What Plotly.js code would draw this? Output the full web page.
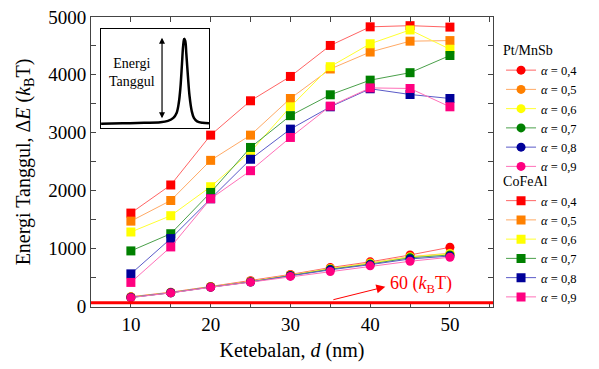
<!DOCTYPE html>
<html>
<head>
<meta charset="utf-8">
<script src="https://cdn.plot.ly/plotly-3.0.1.min.js"></script>
<style>html,body{margin:0;padding:0;background:#fff;}#chart{width:599px;height:369px;}</style>
</head>
<body>
<div id="chart"></div>
<script>
// Thickness d (nm)
const thickness = [10, 15, 20, 25, 30, 35, 40, 45, 50];
const alphaLabels = ['0,4', '0,5', '0,6', '0,7', '0,8', '0,9'];

// Pt/MnSb (circles) energy barrier, kBT
const ptMnSb_a04 = [162, 241, 340, 439, 548, 667, 766, 885, 1018];
const ptMnSb_a05 = [157, 236, 335, 430, 539, 652, 747, 856, 915];
const ptMnSb_a06 = [154, 234, 332, 425, 534, 648, 742, 851, 905];
const ptMnSb_a07 = [152, 231, 330, 420, 529, 638, 727, 836, 885];
const ptMnSb_a08 = [150, 231, 328, 418, 524, 628, 717, 816, 866];
const ptMnSb_a09 = [147, 229, 325, 415, 514, 598, 697, 776, 846];

// CoFeAl (squares) energy barrier, kBT
const coFeAl_a04 = [1609, 2095, 2957, 3551, 3972, 4508, 4830, 4850, 4825];
const coFeAl_a05 = [1470, 1827, 2521, 2957, 3591, 4101, 4394, 4582, 4592];
const coFeAl_a06 = [1282, 1564, 2065, 2669, 3447, 4141, 4537, 4776, 4443];
const coFeAl_a07 = [955, 1252, 1966, 2744, 3294, 3655, 3908, 4037, 4334];
const coFeAl_a08 = [558, 1168, 1857, 2540, 3061, 3447, 3759, 3660, 3591];
const coFeAl_a09 = [410, 1024, 1857, 2342, 2917, 3459, 3774, 3764, 3447];

// Thermal stability threshold
const thresholdValue = 60;

// Inset sketch of the energy barrier profile
const insetX = [0, 20, 40, 55, 62, 67, 70, 72, 73.5, 75, 76, 77, 78, 79, 80.5, 82, 84, 86, 89, 94, 100];
const insetY = [4, 4.5, 5, 5.5, 7, 10, 15, 25, 40, 65, 82, 90, 88, 75, 52, 32, 17, 10, 6.5, 5, 4.5];

const ptSeries = [ptMnSb_a04, ptMnSb_a05, ptMnSb_a06, ptMnSb_a07, ptMnSb_a08, ptMnSb_a09];
const coSeries = [coFeAl_a04, coFeAl_a05, coFeAl_a06, coFeAl_a07, coFeAl_a08, coFeAl_a09];

const markerColors = ['#ff0000', '#ff8000', '#ffff00', '#008000', '#000099', '#ff0080'];
const lineColors = ['#ff6464', '#ffaa66', '#ffff30', '#4aa04a', '#5a5ac8', '#ff70b8'];

const traces = [];
ptSeries.forEach((vals, i) => {
  traces.push({
    x: thickness, y: vals, type: 'scatter', mode: 'lines+markers',
    name: '<i>α</i> = ' + alphaLabels[i], legend: 'legend',
    line: {color: lineColors[i], width: 1},
    marker: {symbol: 'circle', size: 9, color: markerColors[i]}
  });
});
coSeries.forEach((vals, i) => {
  traces.push({
    x: thickness, y: vals, type: 'scatter', mode: 'lines+markers',
    name: '<i>α</i> = ' + alphaLabels[i], legend: 'legend2',
    line: {color: lineColors[i], width: 1},
    marker: {symbol: 'square', size: 9, color: markerColors[i]}
  });
});
traces.push({
  x: insetX, y: insetY, type: 'scatter', mode: 'lines', xaxis: 'x2', yaxis: 'y2',
  line: {color: '#000', width: 2.5, shape: 'spline'}, showlegend: false, hoverinfo: 'skip'
});

const axisColor = '#444';
const layout = {
  width: 599, height: 369,
  margin: {l: 91, r: 106, t: 17, b: 62},
  font: {family: 'Liberation Serif, Times New Roman, serif', color: '#000', size: 14},
  paper_bgcolor: '#fff', plot_bgcolor: '#fff',
  xaxis: {
    range: [5, 55.4], tick0: 0, dtick: 10, ticks: 'inside', ticklen: 5, tickcolor: axisColor,
    minor: {dtick: 5, ticks: 'inside', ticklen: 5, tickcolor: axisColor, showgrid: false},
    showline: true, linecolor: axisColor, linewidth: 1, mirror: 'ticks',
    showgrid: false, zeroline: false, tickfont: {size: 19},
    title: {text: 'Ketebalan, <i>d</i> (nm)', font: {size: 20}, standoff: 9}
  },
  yaxis: {
    range: [-15, 5000], tick0: 0, dtick: 1000, ticks: 'inside', ticklen: 5, tickcolor: axisColor,
    minor: {dtick: 500, ticks: 'inside', ticklen: 5, tickcolor: axisColor, showgrid: false},
    showline: true, linecolor: axisColor, linewidth: 1, mirror: 'ticks',
    showgrid: false, zeroline: false, tickfont: {size: 19},
    title: {text: 'Energi Tanggul, Δ<i>E</i> (<i>k</i><sub>B</sub>T)', font: {size: 20}, standoff: 12}
  },
  xaxis2: {
    domain: [0.025, 0.2935], anchor: 'y2', range: [0, 100],
    showline: true, linecolor: '#000', linewidth: 1, mirror: true,
    showticklabels: false, ticks: '', showgrid: false, zeroline: false, fixedrange: true
  },
  yaxis2: {
    domain: [0.618, 0.959], anchor: 'x2', range: [0, 100],
    showline: true, linecolor: '#000', linewidth: 1, mirror: true,
    showticklabels: false, ticks: '', showgrid: false, zeroline: false, fixedrange: true
  },
  legend: {
    title: {text: 'Pt/MnSb', font: {size: 14}},
    x: 1.02, xanchor: 'left', y: 0.93, yanchor: 'top',
    font: {size: 12.5}, bgcolor: 'rgba(0,0,0,0)', tracegroupgap: 0
  },
  legend2: {
    title: {text: 'CoFeAl', font: {size: 14}},
    x: 1.02, xanchor: 'left', y: 0.48, yanchor: 'top',
    font: {size: 12.5}, bgcolor: 'rgba(0,0,0,0)', tracegroupgap: 0
  },
  shapes: [{
    type: 'line', xref: 'paper', x0: 0, x1: 1, yref: 'y', y0: thresholdValue, y1: thresholdValue,
    line: {color: '#ff0000', width: 3}
  }],
  annotations: [
    {
      xref: 'x', yref: 'y', x: 46.4, y: 382, showarrow: false,
      text: thresholdValue + ' (<i>k</i><sub>B</sub>T)', font: {size: 18, color: '#ff0000'}
    },
    {
      xref: 'x', yref: 'y', x: 41.9, y: 335, axref: 'x', ayref: 'y', ax: 35.2, ay: 105,
      text: '', showarrow: true, arrowhead: 2, arrowsize: 1.8, arrowwidth: 1, arrowcolor: '#ff0000'
    },
    {
      xref: 'x2', yref: 'y2', x: 29, y: 56, showarrow: false,
      text: 'Energi<br>Tanggul', font: {size: 14, color: '#000'}
    },
    {
      xref: 'x2', yref: 'y2', x: 56.5, y: 91, axref: 'x2', ayref: 'y2', ax: 56.5, ay: 8,
      text: '', showarrow: true, arrowhead: 2, startarrowhead: 2, arrowside: 'end+start',
      arrowsize: 1, startarrowsize: 1, arrowwidth: 1.2, arrowcolor: '#000'
    }
  ]
};

Plotly.newPlot('chart', traces, layout, {displayModeBar: false, staticPlot: true});
</script>
</body>
</html>
